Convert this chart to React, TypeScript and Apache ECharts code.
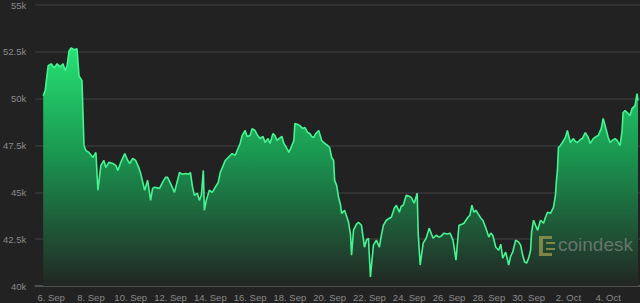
import React, { useEffect, useRef } from "react";
import * as echarts from "echarts";

// x = day of period (1 Sep = 1, 1 Oct = 31), fractional = time of day
const days: number[] = [
  5.6, 5.7, 5.85, 6.0, 6.15, 6.3, 6.45, 6.6, 6.7, 6.8, 6.9, 7.0, 7.15, 7.3, 7.4, 7.55, 7.65, 7.75, 7.9, 8.1,
  8.25, 8.35, 8.5, 8.65, 8.75, 8.9, 9.1, 9.25, 9.35, 9.5, 9.7, 9.85, 9.95, 10.1, 10.25, 10.4, 10.5, 10.7, 10.85, 11.0,
  11.1, 11.2, 11.45, 11.6, 11.75, 11.85, 12.0, 12.2, 12.35, 12.45, 12.6, 12.75, 12.9, 13.0, 13.1, 13.2, 13.35, 13.45, 13.55, 13.65,
  13.7, 13.8, 13.95, 14.1, 14.25, 14.4, 14.5, 14.65, 14.75, 14.9, 15.1, 15.25, 15.35, 15.5, 15.6, 15.75, 15.85, 16.0, 16.1, 16.25,
  16.35, 16.5, 16.65, 16.75, 16.9, 17.0, 17.15, 17.25, 17.35, 17.45, 17.6, 17.7, 17.85, 17.95, 18.1, 18.2, 18.25, 18.4, 18.5, 18.65,
  18.75, 18.9, 19.0, 19.1, 19.2, 19.3, 19.45, 19.6, 19.75, 19.9, 20.0, 20.1, 20.2, 20.25, 20.35, 20.45, 20.55, 20.6, 20.75, 20.85,
  20.95, 21.05, 21.1, 21.2, 21.35, 21.45, 21.6, 21.75, 21.85, 21.95, 22.05, 22.2, 22.35, 22.5, 22.6, 22.7, 22.85, 23.0, 23.1, 23.25,
  23.35, 23.5, 23.6, 23.7, 23.85, 24.0, 24.1, 24.25, 24.4, 24.45, 24.55, 24.7, 24.85, 25.0, 25.2, 25.35, 25.5, 25.6, 25.75, 25.9,
  26.05, 26.2, 26.35, 26.5, 26.65, 26.75, 26.95, 27.05, 27.15, 27.25, 27.35, 27.45, 27.6, 27.7, 27.85, 28.0, 28.1, 28.2, 28.35, 28.5,
  28.6, 28.7, 28.85, 29.0, 29.1, 29.2, 29.35, 29.5, 29.6, 29.7, 29.8, 29.9, 30.0, 30.1, 30.15, 30.25, 30.35, 30.45, 30.6, 30.75,
  30.85, 30.95, 31.1, 31.25, 31.35, 31.4, 31.45, 31.5, 31.6, 31.7, 31.85, 31.95, 32.05, 32.1, 32.25, 32.35, 32.45, 32.6, 32.7, 32.85,
  33.0, 33.1, 33.25, 33.4, 33.5, 33.65, 33.75, 33.85, 34.0, 34.1, 34.2, 34.35, 34.45, 34.6, 34.7, 34.75, 34.85, 34.95, 35.1, 35.2,
  35.35, 35.45, 35.5,
];

const prices: number[] = [
  50160, 50430, 51760, 51860, 51650, 51860, 51700, 51860, 51490, 51760, 52550, 52710, 52610, 52660, 51220, 50960, 47500, 47230, 47130, 46860,
  47130, 45110, 46440, 46700, 46330, 46600, 46540, 46440, 46170, 46600, 47070, 46700, 46540, 46810, 46700, 46330, 46010, 45110, 45640, 44570,
  45210, 45270, 45210, 45530, 45800, 45800, 45480, 45000, 45640, 46060, 45960, 46010, 45960, 46060, 45320, 44840, 44950, 44570, 44840, 46170,
  44040, 44570, 45110, 45000, 45270, 45530, 46060, 46440, 46700, 46860, 47070, 46970, 47230, 47610, 48030, 48300, 47980, 48030, 48400, 48300,
  48080, 47870, 47980, 47660, 47870, 47610, 48140, 48030, 47770, 47870, 47980, 47610, 47340, 47130, 47500, 47770, 48670, 48620, 48560, 48400,
  48460, 48190, 48140, 47980, 47930, 48140, 48300, 47770, 47610, 47500, 47390, 46860, 46700, 45640, 45370, 44730, 44310, 43880, 44040, 43720,
  43400, 42710, 41650, 42980, 43300, 43400, 43240, 42070, 42450, 42550, 40480, 42180, 42450, 42070, 42710, 43240, 43510, 43620, 43670, 44150,
  44310, 43940, 44260, 44310, 44840, 44790, 44730, 44420, 44950, 42820, 41120, 42290, 42550, 43090, 42550, 42710, 42610, 42660, 42820, 42770,
  42820, 42450, 41380, 43240, 43300, 43350, 43670, 43780, 44310, 43940, 44040, 43880, 43620, 43510, 43090, 42610, 42820, 42710, 42070, 41910,
  42230, 41490, 41810, 41120, 41600, 41810, 42450, 42340, 42180, 41650, 41280, 41220, 41490, 41910, 42870, 43510, 43240, 42980, 43510, 43350,
  43670, 43940, 43880, 44200, 44840, 45640, 46170, 47390, 47500, 47660, 47930, 48300, 47870, 47660, 47870, 47710, 47660, 47820, 47870, 48190,
  47930, 47610, 47870, 47980, 48030, 48400, 48940, 48560, 47930, 47660, 47770, 47870, 47770, 47500, 48300, 49260, 49360, 49260, 49100, 49470,
  49630, 50270, 49890,
];

const xTickDays: number[] = [6, 8, 10, 12, 14, 16, 18, 20, 22, 24, 26, 28, 30, 32, 34];

const formatDay = (d: number): string => (d <= 30 ? `${d}. Sep` : `${d - 30}. Oct`);
const formatPrice = (v: number): string => `${v / 1000}k`;

export default function App() {
  const ref = useRef<HTMLDivElement>(null);

  useEffect(() => {
    document.body.style.margin = "0";
    document.body.style.background = "#222222";
    if (!ref.current) return;
    const chart = echarts.init(ref.current, undefined, { renderer: "svg" });
    const data = days.map((d, i) => [d, prices[i]]);
    const logoFill = "rgba(205,185,90,0.55)";
    chart.setOption({
      animation: false,
      backgroundColor: "#222222",
      grid: { left: 32, right: 0, top: 4, bottom: 17, containLabel: false },
      xAxis: {
        type: "value",
        min: 5.2,
        max: 35.6,
        axisLine: { show: true, lineStyle: { color: "#5a5a5a", width: 1.5 } },
        axisTick: { show: false },
        splitLine: { show: false },
        axisLabel: {
          customValues: xTickDays,
          formatter: (v: number) => formatDay(Math.round(v)),
          color: "#8a8a8a",
          fontSize: 9.5,
          fontFamily: "Liberation Sans, Arial, sans-serif",
          margin: 6,
        },
      },
      yAxis: {
        type: "value",
        min: 40000,
        max: 55000,
        interval: 2500,
        axisLine: { show: false },
        axisTick: { show: false },
        splitLine: { show: true, lineStyle: { color: "#383838", width: 1.5 } },
        axisLabel: {
          formatter: (v: number) => formatPrice(v),
          color: "#8a8a8a",
          fontSize: 9.5,
          fontFamily: "Liberation Sans, Arial, sans-serif",
          margin: 9,
        },
      },
      series: [
        {
          type: "line",
          data,
          showSymbol: false,
          symbol: "none",
          lineStyle: { color: "#45f592", width: 1.6 },
          areaStyle: {
            color: new echarts.graphic.LinearGradient(0, 0, 0, 1, [
              { offset: 0, color: "rgba(38,226,115,1)" },
              { offset: 0.45, color: "rgba(26,150,80,1)" },
              { offset: 1, color: "rgba(34,38,35,1)" },
            ]),
            opacity: 1,
          },
        },
      ],
      graphic: [
        { type: "rect", z: 100, shape: { x: 539, y: 236, width: 13, height: 3 }, style: { fill: logoFill } },
        { type: "rect", z: 100, shape: { x: 539, y: 239, width: 4, height: 14 }, style: { fill: logoFill } },
        { type: "rect", z: 100, shape: { x: 539, y: 253, width: 13, height: 3 }, style: { fill: logoFill } },
        { type: "rect", z: 100, shape: { x: 546, y: 242, width: 9, height: 2 }, style: { fill: logoFill } },
        { type: "rect", z: 100, shape: { x: 546, y: 248, width: 9, height: 2 }, style: { fill: logoFill } },
        {
          type: "text",
          z: 100,
          x: 558,
          y: 235,
          style: {
            text: "coindesk",
            fill: "rgba(150,150,150,0.6)",
            fontSize: 19,
            fontFamily: "Liberation Sans, Arial, sans-serif",
          },
        },
      ],
    });
    return () => chart.dispose();
  }, []);

  return (
    <div
      ref={ref}
      style={{ position: "fixed", left: 0, top: 0, width: 640, height: 303 }}
    />
  );
}
